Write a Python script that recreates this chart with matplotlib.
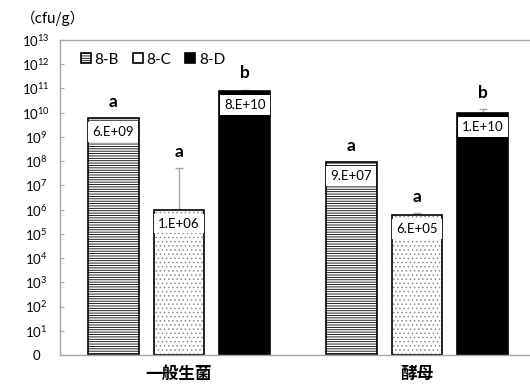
import matplotlib.pyplot as plt
import numpy as np
from matplotlib.ticker import NullLocator

plt.rcParams['font.family'] = ['Lato', 'Noto Sans CJK JP', 'DejaVu Sans']
plt.rcParams['mathtext.fontset'] = 'custom'
plt.rcParams['mathtext.rm'] = 'Lato'
plt.rcParams['hatch.linewidth'] = 0.6

categories = ['一般生菌', '酵母']
series = ['8-B', '8-C', '8-D']

# mean counts (cfu/g) and upper error
vals_8b = [6e9, 9e7]
vals_8c = [1e6, 6e5]
vals_8d = [8e10, 1e10]
err_8b = [0, 0]
err_8c = [4.9e7, 1.2e5]
err_8d = [1e10, 4.5e9]
letters_8b = ['a', 'a']
letters_8c = ['a', 'a']
letters_8d = ['b', 'b']

ytick_exp = list(range(14))
ytick_labels = ['0'] + [rf'$10^{{{k}}}$' for k in ytick_exp[1:]]

fig = plt.figure(figsize=(5.3, 3.87), dpi=100)
ax = fig.add_axes([60 / 530, 32 / 387, 476 / 530, 315 / 387])
ax.set_yscale('log')

width = 0.214
step = 0.277
grey = '#a6a6a6'
x = np.arange(len(categories))

groups = [
    (vals_8b, err_8b, letters_8b),
    (vals_8c, err_8c, letters_8c),
    (vals_8d, err_8d, letters_8d),
]

for j, (vals, errs, lets) in enumerate(groups):
    xs = x + (j - 1) * step
    if j == 0:
        ax.bar(xs, vals, width, bottom=1, color='white', edgecolor='black',
               hatch='-------', linewidth=1.2, label=series[j])
    elif j == 1:
        ax.bar(xs, vals, width, bottom=1, color='white', edgecolor='#8c8c8c',
               hatch='....', linewidth=0)
        ax.bar(xs, vals, width, bottom=1, color='none', edgecolor='black',
               linewidth=1.2, label=series[j])
    else:
        ax.bar(xs, vals, width, bottom=1, color='black', edgecolor='black',
               linewidth=1.2, label=series[j])

    for xi, v, e, let in zip(xs, vals, errs, lets):
        if e > 0:
            ax.errorbar(xi, v, yerr=[[0], [e]], fmt='none', ecolor=grey,
                        elinewidth=1, capsize=3, capthick=1, zorder=0.5)
        ax.annotate(f'{v:#.0E}', (xi, v), xytext=(0, -10),
                    textcoords='offset points', ha='center', va='center',
                    fontsize=9.5, zorder=5,
                    bbox=dict(boxstyle='square,pad=0.3', fc='white', ec='none'))
        ax.annotate(let, (xi, v + e), xytext=(0, 8), textcoords='offset points',
                    ha='center', va='baseline', fontsize=12.5, fontweight='bold')

ax.set_xlim(-0.5, 1.5)
ax.set_ylim(1, 1e13)
ax.set_yticks([10.0 ** k for k in ytick_exp])
ax.set_yticklabels(ytick_labels)
ax.yaxis.set_minor_locator(NullLocator())
ax.tick_params(axis='y', direction='in', length=3, color=grey, pad=17.3,
               labelsize=9.5)
for lab in ax.get_yticklabels():
    lab.set_horizontalalignment('center')

ax.set_xticks(x)
ax.set_xticklabels(categories)
ax.tick_params(axis='x', length=0, pad=7)
for lab in ax.get_xticklabels():
    lab.set_fontfamily(['Noto Sans CJK JP'])
    lab.set_fontweight('bold')
    lab.set_fontsize(12)

for side in ['left', 'bottom', 'top']:
    ax.spines[side].set_color(grey)
    ax.spines[side].set_linewidth(1)
ax.spines['right'].set_visible(False)

ax.legend(loc='upper left', bbox_to_anchor=(0.044, 0.96), ncol=3,
          frameon=False, fontsize=11, handlelength=0.65, handleheight=0.65,
          handletextpad=0.25, columnspacing=0.9, borderaxespad=0,
          borderpad=0)

fig.text(21 / 530, 1 - 18 / 387, '（cfu/g）', fontsize=10.5, va='center',
         family=['Noto Sans CJK JP'])

fig.savefig('out.png', dpi=100)
